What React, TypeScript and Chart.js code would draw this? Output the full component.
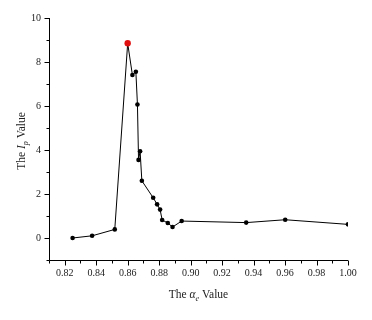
import React, { useEffect, useRef } from "react";
import { Chart, registerables } from "chart.js";

Chart.register(...registerables);

const alphaValues = [0.825, 0.8374, 0.8518, 0.86, 0.863, 0.8652, 0.8662, 0.8669, 0.8679, 0.869, 0.8762, 0.8787, 0.8806, 0.8819, 0.8855, 0.8885, 0.8943, 0.9353, 0.9601, 1.0];
const ipValues = [0.0, 0.1, 0.39, 8.85, 7.41, 7.56, 6.07, 3.55, 3.94, 2.6, 1.83, 1.53, 1.29, 0.82, 0.68, 0.5, 0.77, 0.7, 0.83, 0.62];
const yMajorLabels = [0, 2, 4, 6, 8, 10];
const xMajorLabels = [0.82, 0.84, 0.86, 0.88, 0.9, 0.92, 0.94, 0.96, 0.98, 1.0];

const FONT = "'Liberation Serif', 'DejaVu Serif', serif";

type Piece = { t: string; italic?: boolean; sub?: boolean };

function drawRich(ctx: CanvasRenderingContext2D, pieces: Piece[], size: number) {
  const fontFor = (p: Piece) => `${p.italic ? "italic " : ""}${p.sub ? size * 0.7 : size}px ${FONT}`;
  let total = 0;
  const widths = pieces.map((p) => {
    ctx.font = fontFor(p);
    const w = ctx.measureText(p.t).width;
    total += w;
    return w;
  });
  let x = -total / 2;
  ctx.fillStyle = "#222";
  ctx.textBaseline = "middle";
  ctx.textAlign = "left";
  pieces.forEach((p, i) => {
    ctx.font = fontFor(p);
    ctx.fillText(p.t, x, p.sub ? size * 0.3 : 0);
    x += widths[i];
  });
}

const axesPlugin = {
  id: "customAxes",
  afterDraw(chart: any) {
    const ctx = chart.ctx as CanvasRenderingContext2D;
    const xs = chart.scales.x;
    const ys = chart.scales.y;
    const { left, right, top, bottom } = chart.chartArea;
    ctx.save();
    ctx.strokeStyle = "#000";
    ctx.lineWidth = 1;
    ctx.beginPath();
    ctx.moveTo(left + 0.5, top);
    ctx.lineTo(left + 0.5, bottom + 0.5);
    ctx.lineTo(right, bottom + 0.5);
    ctx.stroke();
    ys.ticks.forEach((t: any) => {
      const v = Math.round(t.value);
      const major = yMajorLabels.includes(v);
      const py = Math.round(ys.getPixelForValue(t.value)) + 0.5;
      ctx.beginPath();
      ctx.moveTo(left + 0.5, py);
      ctx.lineTo(left + 0.5 - (major ? 5 : 3), py);
      ctx.stroke();
    });
    xs.ticks.forEach((t: any) => {
      const v = Math.round(t.value * 100);
      const major = xMajorLabels.some((m) => Math.round(m * 100) === v);
      const px = Math.round(xs.getPixelForValue(t.value)) + 0.5;
      ctx.beginPath();
      ctx.moveTo(px, bottom + 0.5);
      ctx.lineTo(px, bottom + 0.5 + (major ? 5 : 3));
      ctx.stroke();
    });
    ctx.save();
    ctx.translate(22, (top + bottom) / 2 + 2);
    ctx.rotate(-Math.PI / 2);
    drawRich(ctx, [{ t: "The " }, { t: "I", italic: true }, { t: "p", italic: true, sub: true }, { t: " Value" }], 11.5);
    ctx.restore();
    ctx.save();
    ctx.translate((left + right) / 2, 295);
    drawRich(ctx, [{ t: "The " }, { t: "α", italic: true }, { t: "e", italic: true, sub: true }, { t: " Value" }], 11.5);
    ctx.restore();
    ctx.restore();
  },
};

export default function App() {
  const ref = useRef<HTMLCanvasElement | null>(null);
  useEffect(() => {
    if (!ref.current) return;
    const maxV = Math.max(...ipValues);
    const data = alphaValues.map((x, i) => ({ x, y: ipValues[i] }));
    const chart = new Chart(ref.current, {
      type: "line",
      data: {
        datasets: [
          {
            data,
            borderColor: "#000",
            borderWidth: 1,
            pointBackgroundColor: ipValues.map((v) => (v === maxV ? "#e01010" : "#000")),
            pointBorderColor: ipValues.map((v) => (v === maxV ? "#e01010" : "#000")),
            pointRadius: ipValues.map((v) => (v === maxV ? 3.2 : 2.3)),
            pointBorderWidth: 0,
            tension: 0,
          },
        ],
      },
      options: {
        animation: false,
        responsive: false,
        layout: { padding: { top: 18, right: 24, left: 0, bottom: 0 } },
        plugins: { legend: { display: false }, tooltip: { enabled: false } },
        scales: {
          x: {
            type: "linear",
            min: 0.81,
            max: 1.0,
            grid: { display: false, drawTicks: false },
            border: { display: false },
            afterFit: (s: any) => {
              s.height = 60;
            },
            ticks: {
              stepSize: 0.01,
              autoSkip: false,
              maxRotation: 0,
              padding: 7,
              color: "#222",
              font: { family: FONT, size: 10 },
              callback: (v: any) => {
                const n = Math.round(Number(v) * 100);
                return xMajorLabels.some((m) => Math.round(m * 100) === n) ? (n / 100).toFixed(2) : "";
              },
            },
          },
          y: {
            type: "linear",
            min: -1,
            max: 10,
            grid: { display: false, drawTicks: false },
            border: { display: false },
            afterFit: (s: any) => {
              s.width = 49;
            },
            ticks: {
              stepSize: 1,
              autoSkip: false,
              padding: 8,
              color: "#222",
              font: { family: FONT, size: 10 },
              callback: (v: any) => {
                const n = Math.round(Number(v));
                return yMajorLabels.includes(n) ? String(n) : "";
              },
            },
          },
        },
      },
      plugins: [axesPlugin],
    });
    return () => chart.destroy();
  }, []);
  return (
    <div style={{ position: "absolute", left: 0, top: 0, width: 372, height: 320, background: "#fff" }}>
      <canvas ref={ref} width={372} height={320} />
    </div>
  );
}
